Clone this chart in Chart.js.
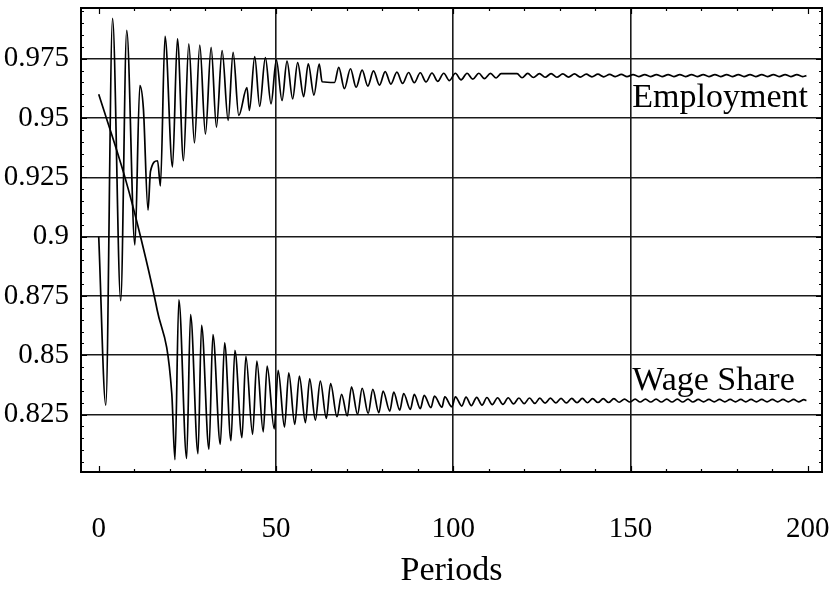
<!DOCTYPE html>
<html>
<head>
<meta charset="utf-8">
<title>Employment and Wage Share</title>
<script src="https://cdn.jsdelivr.net/npm/chart.js@4.4.0/dist/chart.umd.min.js"></script>
<style>
	html, body { margin: 0; padding: 0; background: #fff; }
	#wrap { width: 836px; height: 591px; }
</style>
</head>
<body>
<div id="wrap"><canvas id="periods" width="836" height="591"></canvas></div>
<script>
// Values (period, level).
var empPeriods = [
	0, 2.0, 3.9, 6.2, 7.9, 10.2, 11.6, 12.6, 13.9, 14.6,
	16.6, 17.4, 18.7, 20.8, 22.2, 23.9, 25.4, 27.0, 28.5, 30.1,
	31.7, 33.2, 34.8, 36.5, 37.9, 39.5, 41.8, 42.5, 44.0, 45.4,
	47.0, 48.6, 50.1, 51.7, 53.1, 54.7, 56.1, 57.8, 59.1, 60.7,
	62.2, 63.0, 66.5, 67.7, 69.3, 71.0, 72.6, 74.3, 75.9, 77.5,
	79.2, 80.8, 82.4, 84.1, 85.7, 87.4, 89.0, 90.7, 92.3, 94.0,
	95.6, 97.3, 98.9, 100.6, 102.2, 103.9, 105.5, 107.2, 108.8, 110.5,
	112.1, 113.5, 118.0, 119.4, 121.0, 122.6, 124.3, 125.9, 127.6, 129.2,
	130.9, 132.5, 134.2, 135.8, 137.5, 139.1, 140.8, 142.4, 144.1, 145.7,
	147.4, 149.0, 150.7, 152.3, 154.0, 155.6, 157.3, 158.9, 160.6, 162.2,
	163.9, 165.5, 167.2, 168.8, 170.5, 172.1, 173.8, 175.4, 177.1, 178.7,
	180.4, 182.0, 183.7, 185.3, 187.0, 188.6, 190.3, 191.9, 193.6, 195.2,
	196.9, 198.5, 199.6
];
var empValues = [
	0.900, 0.829, 0.992, 0.873, 0.987, 0.8965, 0.9637, 0.954, 0.9112, 0.9276,
	0.932, 0.9214, 0.9844, 0.9294, 0.9834, 0.932, 0.9813, 0.9395, 0.9808, 0.9432,
	0.9798, 0.9462, 0.9784, 0.949, 0.9777, 0.9511, 0.9628, 0.9532, 0.9759, 0.9549,
	0.9755, 0.956, 0.9745, 0.9574, 0.974, 0.9581, 0.9734, 0.959, 0.9729, 0.9597,
	0.9728, 0.9653, 0.965, 0.9714, 0.9624, 0.9708, 0.963, 0.9702, 0.9635, 0.9699,
	0.9639, 0.9696, 0.9643, 0.9694, 0.9646, 0.9692, 0.9649, 0.9691, 0.9652, 0.969,
	0.9655, 0.9689, 0.9658, 0.9689, 0.9661, 0.9689, 0.9664, 0.9689, 0.9666, 0.9688,
	0.9669, 0.9687, 0.9687, 0.967, 0.9688, 0.9671, 0.9687, 0.9672, 0.9687, 0.9672,
	0.9686, 0.9673, 0.9686, 0.9673, 0.9685, 0.9674, 0.9685, 0.9674, 0.9684, 0.9675,
	0.9684, 0.9675, 0.9683, 0.9675, 0.9683, 0.9675, 0.9683, 0.9675, 0.9683, 0.9675,
	0.9683, 0.9675, 0.9683, 0.9675, 0.9683, 0.9675, 0.9683, 0.9675, 0.9683, 0.9675,
	0.9683, 0.9675, 0.9683, 0.9675, 0.9683, 0.9675, 0.9683, 0.9675, 0.9683, 0.9675,
	0.9683, 0.9675, 0.9679
];
var wagePeriods = [
	0, 7.4, 11.8, 16.5, 20.6, 21.5, 22.6, 24.8, 25.9, 28.0,
	29.0, 31.1, 32.2, 34.3, 35.5, 37.3, 38.4, 40.4, 41.5, 43.4,
	44.6, 46.4, 47.5, 49.5, 50.6, 52.4, 53.6, 55.3, 56.6, 58.3,
	59.5, 61.1, 62.5, 64.2, 65.4, 67.2, 68.5, 70.1, 71.3, 73.0,
	74.3, 76.0, 77.3, 79.0, 80.2, 82.1, 83.2, 84.9, 86.0, 87.9,
	89.0, 90.7, 91.8, 93.7, 94.7, 96.8, 97.6, 99.6, 100.6, 102.4,
	103.6, 105.1, 106.6, 108.1, 109.5, 111.0, 112.5, 114.0, 115.5, 117.0,
	118.5, 120.0, 121.5, 123.0, 124.4, 125.9, 127.4, 128.9, 130.4, 131.9,
	133.4, 134.9, 136.4, 137.8, 139.3, 140.8, 142.3, 143.8, 145.3, 146.8,
	148.3, 149.8, 151.3, 152.7, 154.2, 155.7, 157.2, 158.7, 160.2, 161.7,
	163.2, 164.7, 166.2, 167.6, 169.1, 170.6, 172.1, 173.6, 175.1, 176.6,
	178.1, 179.6, 181.1, 182.5, 184.0, 185.5, 187.0, 188.5, 190.0, 191.5,
	193.0, 194.5, 196.0, 197.4, 198.9, 199.6
];
var wageValues = [
	0.960, 0.925, 0.900, 0.869, 0.834, 0.806, 0.8734, 0.8065, 0.8671, 0.8085,
	0.8626, 0.8104, 0.8587, 0.8125, 0.8552, 0.814, 0.8521, 0.8153, 0.8496, 0.8167,
	0.8475, 0.8177, 0.8454, 0.819, 0.8437, 0.8198, 0.8426, 0.8209, 0.8412, 0.8216,
	0.8401, 0.8227, 0.8391, 0.8234, 0.8381, 0.8241, 0.8335, 0.8244, 0.8367, 0.8251,
	0.8361, 0.8255, 0.8356, 0.8258, 0.8349, 0.8265, 0.8345, 0.8269, 0.8339, 0.8272,
	0.8335, 0.8275, 0.8331, 0.8279, 0.8328, 0.8281, 0.8325, 0.8283, 0.8325, 0.8286,
	0.8324, 0.8288, 0.8323, 0.829, 0.8322, 0.8292, 0.8321, 0.8293, 0.8321, 0.8295,
	0.832, 0.8296, 0.832, 0.8297, 0.8319, 0.8298, 0.8319, 0.8299, 0.8318, 0.8299,
	0.8318, 0.83, 0.8318, 0.83, 0.8317, 0.8301, 0.8317, 0.8301, 0.8317, 0.8302,
	0.8315, 0.8303, 0.8315, 0.8303, 0.8315, 0.8303, 0.8315, 0.8303, 0.8315, 0.8303,
	0.8315, 0.8303, 0.8315, 0.8303, 0.8314, 0.8304, 0.8314, 0.8304, 0.8314, 0.8304,
	0.8314, 0.8304, 0.8314, 0.8304, 0.8314, 0.8304, 0.8314, 0.8304, 0.8314, 0.8304,
	0.8314, 0.8304, 0.8314, 0.8304, 0.8313, 0.8309
];
var xTicks = [0, 50, 100, 150, 200];
var yTicks = [0.825, 0.85, 0.875, 0.9, 0.925, 0.95, 0.975];
var yTickLabels = ["0.825", "0.85", "0.875", "0.9", "0.925", "0.95", "0.975"];
var seriesNames = ["Employment", "Wage Share"];

// where the two series names sit, in data units
var labelSpots = [
	{ text: seriesNames[0], x: 150.5, y: 0.9546 },
	{ text: seriesNames[1], x: 150.5, y: 0.8352 },
];

var serif = "'Liberation Serif', 'Times New Roman', serif";

function toPoints(xs, ys) {
	return xs.map(function (x, i) {
		return { x: x, y: ys[i] };
	});
}

// Frame, inward tick marks and the in-plot series names.
var framePlugin = {
	id: "frame",
	afterDraw: function (chart) {
		var ctx = chart.ctx;
		var a = chart.chartArea;
		var xs = chart.scales.x;
		var ys = chart.scales.y;
		ctx.save();
		ctx.strokeStyle = "#000";
		ctx.lineWidth = 1.2;
		ctx.beginPath();
		for (var t = 0; t <= 200; t += 10) {
			var px = Math.round(xs.getPixelForValue(t)) + 0.5;
			var len = t % 50 === 0 ? 6 : 3;
			ctx.moveTo(px, a.top);
			ctx.lineTo(px, a.top + len);
			ctx.moveTo(px, a.bottom);
			ctx.lineTo(px, a.bottom - len);
		}
		for (var k = 161; k <= 199; k++) {
			var py = Math.round(ys.getPixelForValue(k * 0.005)) + 0.5;
			var l2 = k % 5 === 0 ? 6 : 3;
			ctx.moveTo(a.left, py);
			ctx.lineTo(a.left + l2, py);
			ctx.moveTo(a.right, py);
			ctx.lineTo(a.right - l2, py);
		}
		ctx.stroke();
		ctx.lineWidth = 2;
		ctx.strokeRect(a.left, a.top, a.right - a.left, a.bottom - a.top);

		ctx.fillStyle = "#000";
		ctx.font = "34px " + serif;
		ctx.textAlign = "left";
		ctx.textBaseline = "alphabetic";
		labelSpots.forEach(function (s) {
			ctx.fillText(s.text, xs.getPixelForValue(s.x), ys.getPixelForValue(s.y));
		});
		ctx.restore();
	},
};

var ctx = document.getElementById("periods");
var config = {
	type: "line",
	data: {
		datasets: [
			{
				label: seriesNames[0],
				data: toPoints(empPeriods, empValues),
				borderColor: "#000",
				borderWidth: 1.7,
				pointRadius: 0,
				fill: false,
				cubicInterpolationMode: "monotone",
			},
			{
				label: seriesNames[1],
				data: toPoints(wagePeriods, wageValues),
				borderColor: "#000",
				borderWidth: 1.7,
				pointRadius: 0,
				fill: false,
				cubicInterpolationMode: "monotone",
			},
		],
	},
	plugins: [framePlugin],
	options: {
		responsive: false,
		animation: false,
		devicePixelRatio: 1,
		layout: { padding: { top: 8, right: 14, left: 0, bottom: 0 } },
		plugins: {
			legend: { display: false },
			tooltip: { enabled: false },
		},
		scales: {
			x: {
				type: "linear",
				min: -5,
				max: 204,
				afterBuildTicks: function (scale) {
					scale.ticks = xTicks.map(function (v) {
						return { value: v };
					});
				},
				afterFit: function (scale) {
					scale.height = 119;
					scale.paddingLeft = 0;
					scale.paddingRight = 0;
				},
				border: { display: false },
				grid: {
					drawTicks: false,
					lineWidth: 1.6,
					color: function (c) {
						var v = c.tick ? c.tick.value : null;
						return v === 50 || v === 100 || v === 150 ? "#1a1a1a" : "rgba(0,0,0,0)";
					},
				},
				ticks: {
					color: "#000",
					padding: 40,
					maxRotation: 0,
					autoSkip: false,
					font: { family: serif, size: 29 },
					callback: function (v) {
						return String(v);
					},
				},
				title: {
					display: true,
					text: "Periods",
					color: "#000",
					font: { family: serif, size: 34 },
					padding: { top: 0, bottom: 0 },
				},
			},
			y: {
				min: 0.8008,
				max: 0.9964,
				afterBuildTicks: function (scale) {
					scale.ticks = yTicks.map(function (v) {
						return { value: v };
					});
				},
				afterFit: function (scale) {
					scale.width = 81;
					scale.paddingTop = 0;
					scale.paddingBottom = 0;
				},
				border: { display: false },
				grid: {
					drawTicks: false,
					lineWidth: 1.6,
					color: "#1a1a1a",
				},
				ticks: {
					color: "#000",
					padding: 12,
					font: { family: serif, size: 29 },
					callback: function (v, i) {
						return yTickLabels[i];
					},
				},
			},
		},
	},
};

window.periodsChart = new Chart(ctx, config);
</script>
</body>
</html>
